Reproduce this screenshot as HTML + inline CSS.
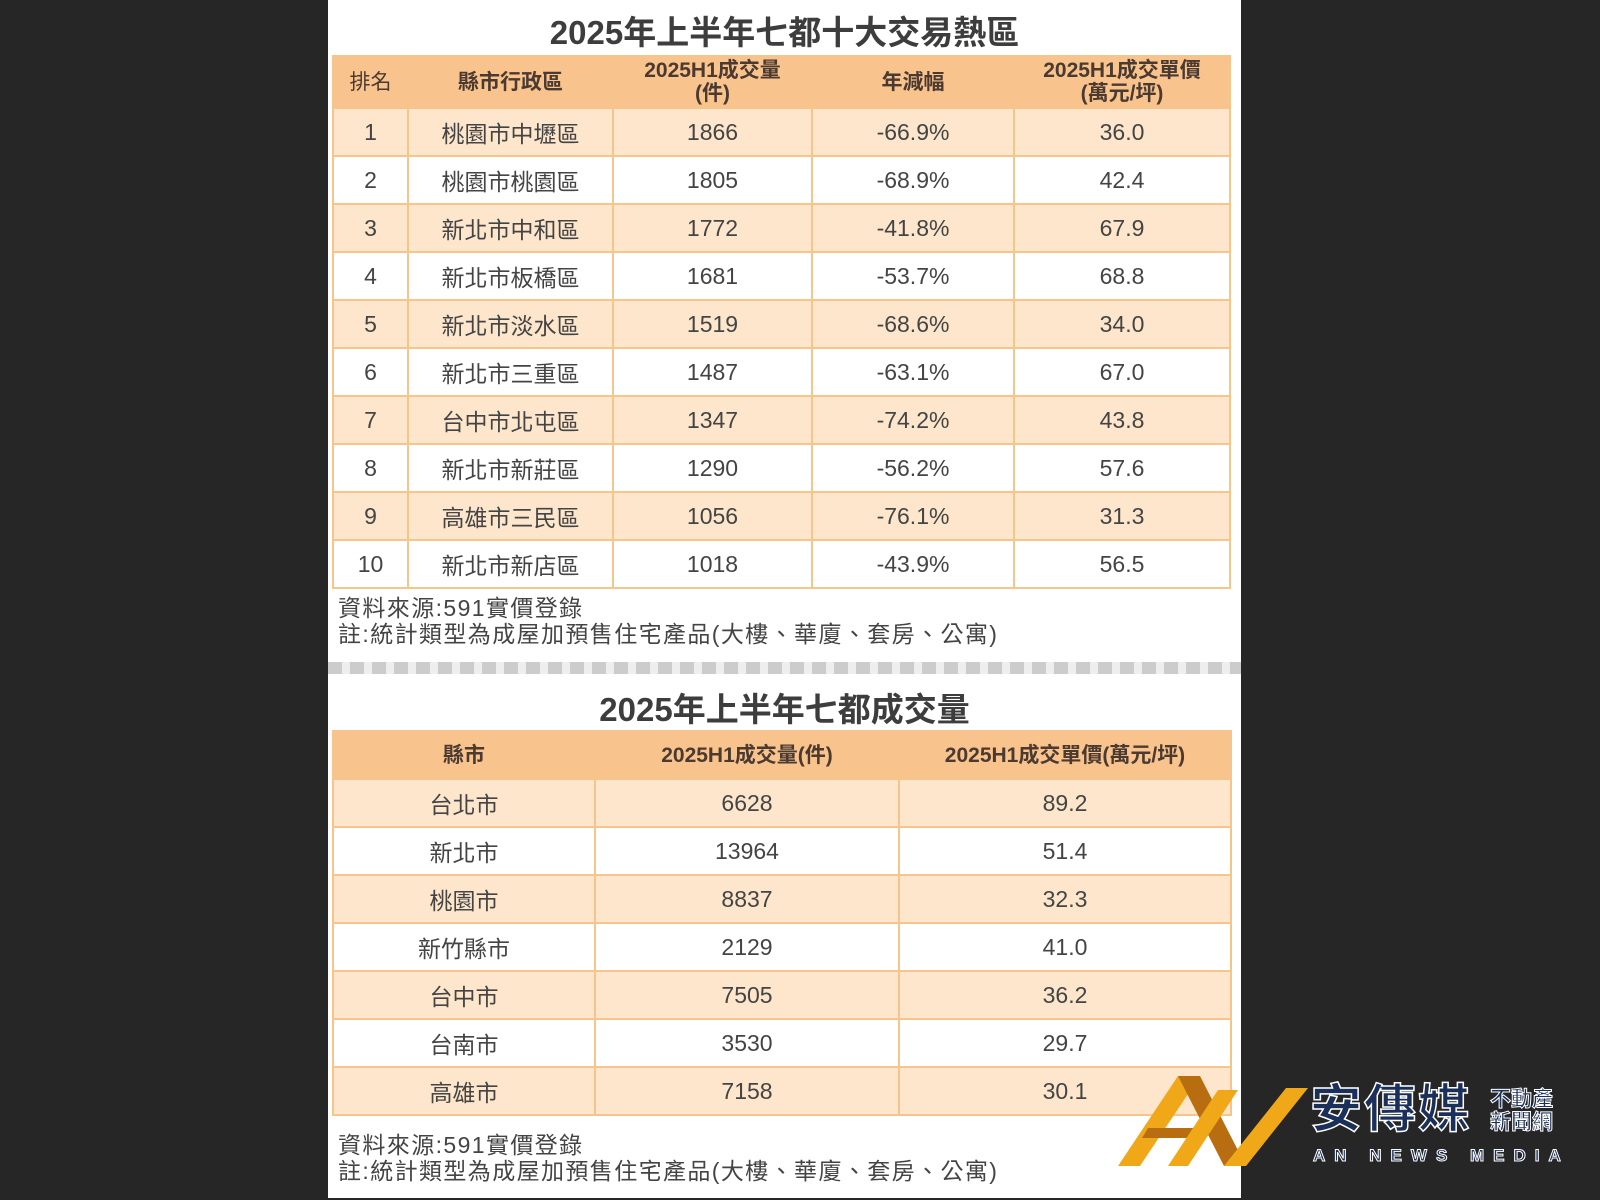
<!DOCTYPE html>
<html><head><meta charset="utf-8"><style>
html,body{margin:0;padding:0;}
body{width:1600px;height:1200px;background:#262626;position:relative;overflow:hidden;font-family:"Liberation Sans","Noto Sans CJK TC",sans-serif;color:#444;}
#panel{position:absolute;left:328px;top:0;width:913px;height:1198px;background:#fff;}
.title{position:absolute;left:328px;width:913px;text-align:center;font-weight:bold;font-size:33px;color:#3d3d3d;}
table{position:absolute;border-collapse:collapse;table-layout:fixed;}
td,th{border:2px solid #f6c58c;text-align:center;padding:0;font-size:23px;color:#444;}
th{background:#f9c38e;font-weight:bold;color:#4a3a30;font-size:21px;line-height:23px;}
tr:nth-child(even) td{background:#fde6cb;}
tr:nth-child(odd) td{background:#fff;}
.note{position:absolute;left:338px;font-size:23px;color:#444;line-height:26px;white-space:nowrap;letter-spacing:1.4px;}
.dash{position:absolute;left:328px;top:662px;width:913px;height:12px;background:repeating-linear-gradient(90deg,#ccc 0 14px,#eee 14px 22px);}
</style></head><body>
<div id="panel"></div>
<div class="title" style="top:6px;">2025年上半年七都十大交易熱區</div>
<table style="left:332px;top:55px;width:897px;">
<colgroup><col style="width:75px"><col style="width:205px"><col style="width:199px"><col style="width:202px"><col style="width:216px"></colgroup>
<tr style="height:52px"><th style="font-weight:normal">排名</th><th>縣市行政區</th><th>2025H1成交量<br>(件)</th><th>年減幅</th><th>2025H1成交單價<br>(萬元/坪)</th></tr>
<tr style="height:48px"><td>1</td><td>桃園市中壢區</td><td>1866</td><td>-66.9%</td><td>36.0</td></tr>
<tr style="height:48px"><td>2</td><td>桃園市桃園區</td><td>1805</td><td>-68.9%</td><td>42.4</td></tr>
<tr style="height:48px"><td>3</td><td>新北市中和區</td><td>1772</td><td>-41.8%</td><td>67.9</td></tr>
<tr style="height:48px"><td>4</td><td>新北市板橋區</td><td>1681</td><td>-53.7%</td><td>68.8</td></tr>
<tr style="height:48px"><td>5</td><td>新北市淡水區</td><td>1519</td><td>-68.6%</td><td>34.0</td></tr>
<tr style="height:48px"><td>6</td><td>新北市三重區</td><td>1487</td><td>-63.1%</td><td>67.0</td></tr>
<tr style="height:48px"><td>7</td><td>台中市北屯區</td><td>1347</td><td>-74.2%</td><td>43.8</td></tr>
<tr style="height:48px"><td>8</td><td>新北市新莊區</td><td>1290</td><td>-56.2%</td><td>57.6</td></tr>
<tr style="height:48px"><td>9</td><td>高雄市三民區</td><td>1056</td><td>-76.1%</td><td>31.3</td></tr>
<tr style="height:48px"><td>10</td><td>新北市新店區</td><td>1018</td><td>-43.9%</td><td>56.5</td></tr>
</table>
<div class="note" style="top:595px;">資料來源:591實價登錄<br>註:統計類型為成屋加預售住宅產品(大樓、華廈、套房、公寓)</div>
<div class="dash"></div>
<div class="title" style="top:683px;">2025年上半年七都成交量</div>
<table style="left:332px;top:730px;width:898px;">
<colgroup><col style="width:262px"><col style="width:304px"><col style="width:332px"></colgroup>
<tr style="height:48px"><th>縣市</th><th>2025H1成交量(件)</th><th>2025H1成交單價(萬元/坪)</th></tr>
<tr style="height:48px"><td>台北市</td><td>6628</td><td>89.2</td></tr>
<tr style="height:48px"><td>新北市</td><td>13964</td><td>51.4</td></tr>
<tr style="height:48px"><td>桃園市</td><td>8837</td><td>32.3</td></tr>
<tr style="height:48px"><td>新竹縣市</td><td>2129</td><td>41.0</td></tr>
<tr style="height:48px"><td>台中市</td><td>7505</td><td>36.2</td></tr>
<tr style="height:48px"><td>台南市</td><td>3530</td><td>29.7</td></tr>
<tr style="height:48px"><td>高雄市</td><td>7158</td><td>30.1</td></tr>
</table>
<div class="note" style="top:1132px;">資料來源:591實價登錄<br>註:統計類型為成屋加預售住宅產品(大樓、華廈、套房、公寓)</div>
<svg style="position:absolute;left:1118px;top:1076px" width="190" height="95" viewBox="0 0 190 95">
<polygon points="0,90 60,0 82,0 22,90" fill="#f0a818"/>
<polygon points="60,0 82,0 128,90 106,90" fill="#b86e10"/>
<polygon points="30,52 80,52 74,62 24,62" fill="#b86e10"/>
<polygon points="50,90 100,14 120,14 70,90" fill="#f0a818"/>
<polygon points="106,90 128,90 190,12 168,12" fill="#f0a818"/>
</svg>
<div style="position:absolute;left:1310px;top:1082px;font-size:52px;font-weight:bold;color:#1a2f5a;-webkit-text-stroke:1.5px #fff;letter-spacing:2px;line-height:56px;white-space:nowrap;">安傳媒</div>
<div style="position:absolute;left:1490px;top:1088px;font-size:21px;font-weight:bold;color:#1a2f5a;-webkit-text-stroke:1px #fff;line-height:23px;">不動產<br>新聞網</div>
<div style="position:absolute;left:1313px;top:1146px;font-size:17px;font-weight:bold;color:#1a2f5a;-webkit-text-stroke:1px #fff;letter-spacing:9px;white-space:nowrap;">AN NEWS MEDIA</div>
</body></html>
